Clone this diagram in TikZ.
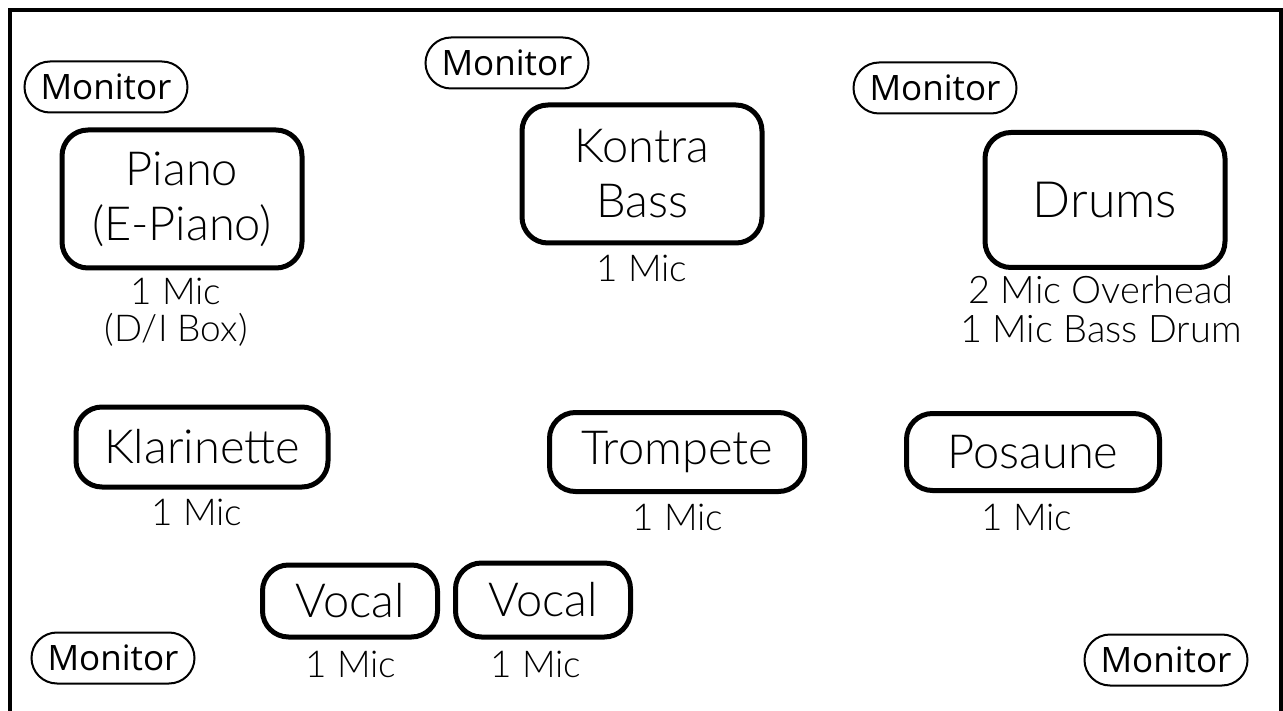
\documentclass[tikz,border=0pt]{standalone}
\usepackage{fontspec}
\setmainfont{Lato}[UprightFont={* Light}]
\newfontfamily\monfont{Open Sans}
\usetikzlibrary{shapes.misc}
\begin{document}
\begin{tikzpicture}[x=1pt,y=-1pt,
  inst/.style={draw, line width=5pt, rounded corners=26pt, align=center, inner sep=0pt, font=\fontsize{47}{55}\selectfont},
  mic/.style={anchor=base, align=center, inner sep=0pt, font=\fontsize{37}{36}\selectfont},
  mon/.style={draw, line width=2pt, rounded rectangle, minimum width=163pt, minimum height=51pt, inner sep=0pt, font=\monfont\fontsize{35}{38}\selectfont}]
\useasboundingbox (0,0) rectangle (1283,711);
\clip (0,0) rectangle (1283,711);
\draw[line width=4.5pt] (10,10) rectangle (1281,760);
% monitors
\node[mon] (m1) at (106,87) {Monitor};
\node[mon] (m2) at (507,63) {Monitor};
\node[mon] (m3) at (935,88) {Monitor};
\node[mon] (m4) at (113,658) {Monitor};
\node[mon] (m5) at (1166,660) {Monitor};
% instruments
\node[inst, minimum width=240pt, minimum height=138pt] (piano) at (182,199) {Piano\\(E-Piano)};
\node[inst, minimum width=240pt, minimum height=138pt] (bass) at (642,174) {Kontra\\Bass};
\node[inst, minimum width=240pt, minimum height=135pt, font=\fontsize{50}{55}\selectfont] (drums) at (1105,200) {Drums};
\node[inst, minimum width=252pt, minimum height=80pt] (klar) at (202,447) {Klarinette};
\node[inst, minimum width=255pt, minimum height=79pt] (trp) at (677,452) {Trompete};
\node[inst, minimum width=253pt, minimum height=77pt] (pos) at (1033,452) {Posaune};
\node[inst, minimum width=175pt, minimum height=72pt] (voc1) at (350,601) {Vocal};
\node[inst, minimum width=175pt, minimum height=74pt] (voc2) at (543,600) {Vocal};
% mic labels
\node[mic, font=\fontsize{37}{37}\selectfont] (lpiano) at (176,342) {1 Mic\\(D/I Box)};
\node[mic] (lbass) at (642,282) {1 Mic};
\node[mic, font=\fontsize{38}{39}\selectfont] (ldrums) at (1101,343) {2 Mic Overhead\\1 Mic Bass Drum};
\node[mic] (lklar) at (197,525) {1 Mic};
\node[mic] (ltrp) at (678,530) {1 Mic};
\node[mic] (lpos) at (1027,530) {1 Mic};
\node[mic] (lvoc1) at (351,677) {1 Mic};
\node[mic] (lvoc2) at (536,677) {1 Mic};
\end{tikzpicture}
\end{document}
